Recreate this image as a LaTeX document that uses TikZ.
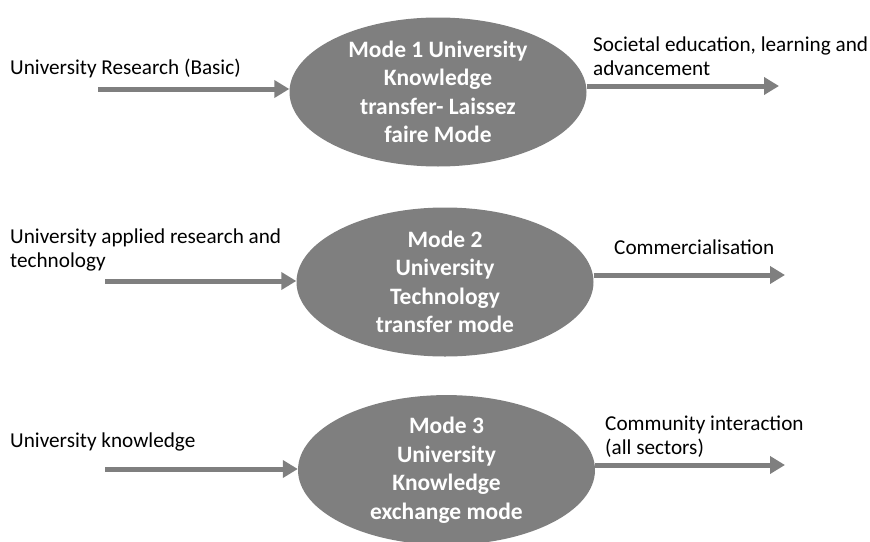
\documentclass[tikz,border=0pt]{standalone}
\usepackage{fontspec}
\setmainfont{Carlito}
\usetikzlibrary{shapes.geometric,arrows.meta}
\definecolor{modegray}{HTML}{7F7F7F}
\begin{document}
\begin{tikzpicture}[x=1pt,y=-1pt,
  mode/.style={ellipse, fill=modegray, minimum width=297pt, minimum height=149pt,
    inner sep=0pt, align=center, text=white,
    font=\fontsize{23.5}{28.5}\selectfont\bfseries},
  lbl/.style={anchor=base west, align=left, inner sep=0pt,
    font=\fontsize{21.2}{24}\selectfont},
  flow/.style={draw=modegray, line width=5pt,
    -{Triangle[length=15pt,width=17pt]}}]
\useasboundingbox (0,0) rectangle (870,541);

% ellipses
\node[mode] (m1) at (438,92) {Mode 1 University\\Knowledge\\transfer- Laissez\\faire Mode};
\node[mode] (m2) at (445,282) {Mode 2\\University\\Technology\\transfer mode};
\node[mode] (m3) at (446.5,470) {Mode 3\\University\\Knowledge\\exchange mode};

% labels (base = baseline of the last line)
\node[lbl] (in1) at (10,74) {University Research (Basic)};
\node[lbl] (out1) at (593,75) {Societal education, learning and\\advancement};
\node[lbl] (in2) at (10,267) {University applied research and\\technology};
\node[lbl] (out2) at (614,254) {Commercialisation};
\node[lbl] (in3) at (10,447) {University knowledge};
\node[lbl] (out3) at (605,454) {Community interaction\\(all sectors)};

% arrow free ends
\coordinate (a1s) at (98,89);
\coordinate (a1e) at (779,86);
\coordinate (a2s) at (105,281);
\coordinate (a2e) at (785,275);
\coordinate (a3s) at (105,469);
\coordinate (a3e) at (785,465);

% arrows
\draw[flow] (a1s) -- (a1s -| m1.west);
\draw[flow] (m1.east |- a1e) -- (a1e);
\draw[flow] (a2s) -- (a2s -| m2.west);
\draw[flow] (m2.east |- a2e) -- (a2e);
\draw[flow] (a3s) -- (a3s -| m3.west);
\draw[flow] (m3.east |- a3e) -- (a3e);
\end{tikzpicture}
\end{document}
